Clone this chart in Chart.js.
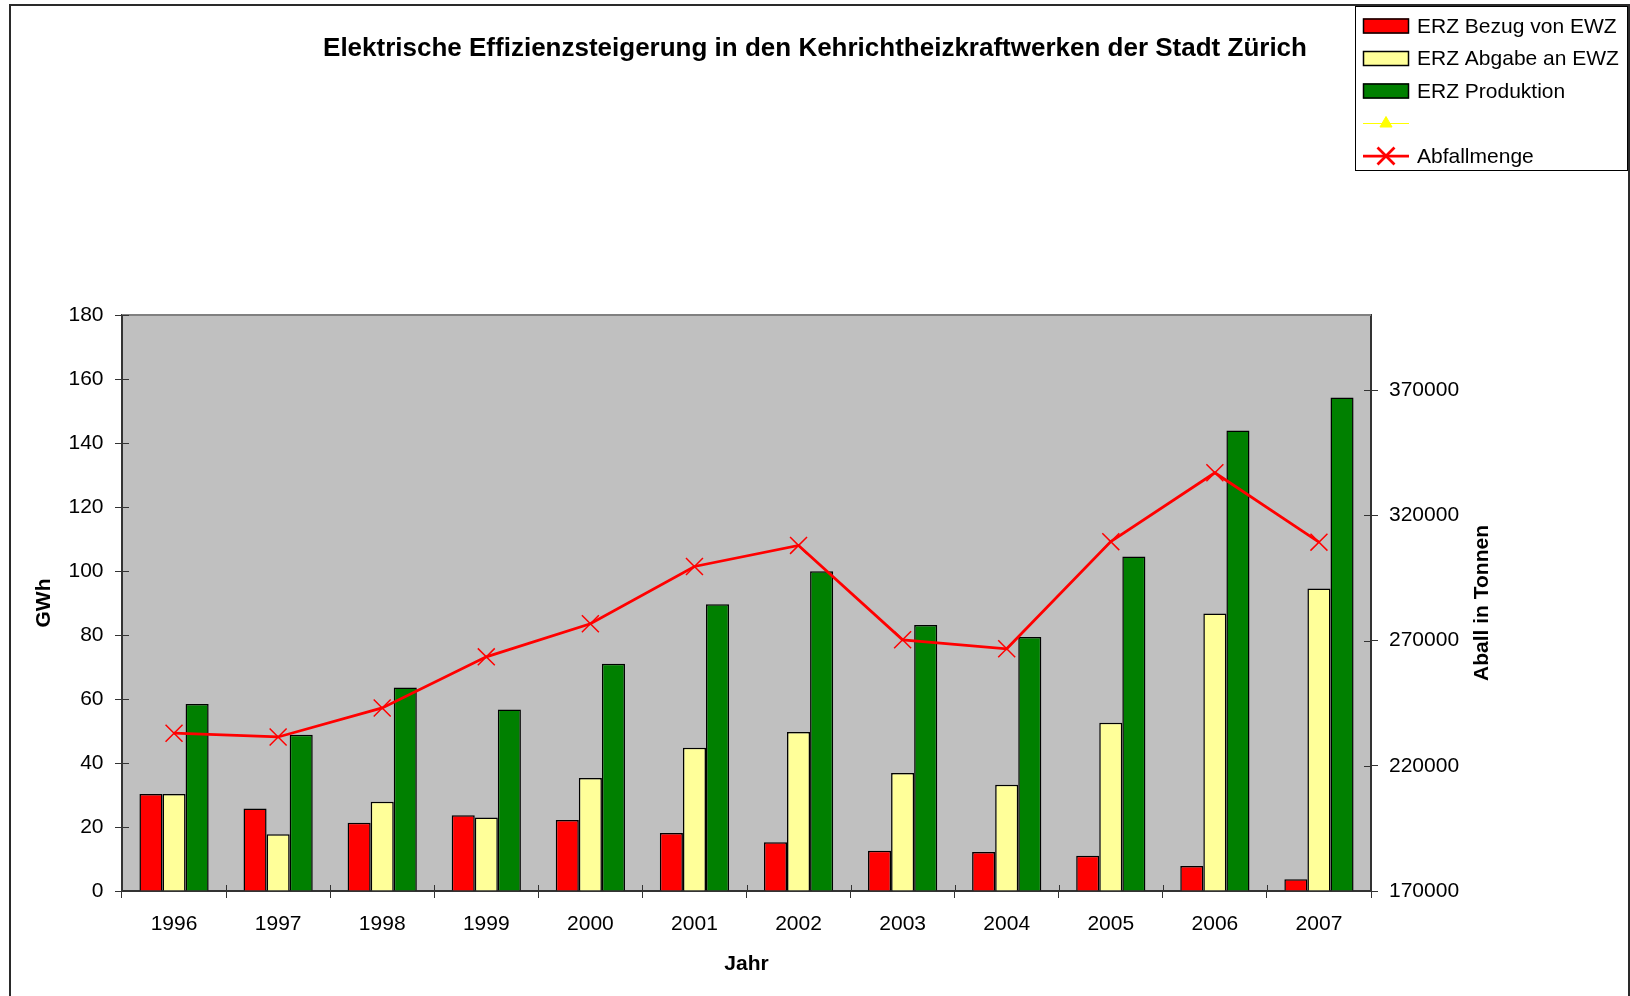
<!DOCTYPE html>
<html>
<head>
<meta charset="utf-8">
<script src="https://cdn.jsdelivr.net/npm/chart.js@4/dist/chart.umd.min.js"></script>
<style>
  html, body { margin: 0; padding: 0; background: #fff; overflow: hidden; }
  #wrap { position: relative; width: 1630px; height: 996px; }
  #frame { position: absolute; left: 9px; top: 4px; width: 1621px; height: 1020px; border: 2px solid #2a2a2a; box-sizing: border-box; pointer-events: none; }
</style>
</head>
<body>
<div id="wrap">
  <canvas id="chart" width="1630" height="996"></canvas>
  <div id="frame"></div>
</div>
<script>
const years = ['1996', '1997', '1998', '1999', '2000', '2001', '2002', '2003', '2004', '2005', '2006', '2007'];
// GWh
const bezugVonEwz = [30.3, 25.8, 21.3, 23.7, 22.2, 18.1, 15.2, 12.6, 12.2, 11.0, 7.8, 3.7];
const abgabeAnEwz = [30.3, 17.7, 27.9, 23.0, 35.3, 44.8, 49.7, 36.9, 33.2, 52.6, 86.7, 94.5];
const produktion = [58.4, 48.8, 63.6, 56.7, 71.0, 89.6, 99.9, 83.1, 79.4, 104.5, 143.9, 154.2];
// Tonnen
const abfallmenge = [233000, 231500, 243100, 263500, 276700, 299600, 308000, 270300, 266700, 309500, 337000, 309300];
const tonnenTicks = [170000, 220000, 270000, 320000, 370000];

const FONT = 'Arial, "Liberation Sans", sans-serif';
Chart.defaults.font.family = FONT;
Chart.defaults.color = '#000';

const AXIS = '#333';

// grey plot background and top border
const plotArea = {
  id: 'plotArea',
  beforeDraw(chart) {
    const { ctx, chartArea: a } = chart;
    ctx.save();
    ctx.fillStyle = '#C0C0C0';
    ctx.fillRect(a.left, a.top, a.right - a.left, a.bottom - a.top);
    ctx.restore();
  },
  afterDraw(chart) {
    const { ctx, chartArea: a } = chart;
    ctx.save();
    ctx.strokeStyle = '#808080';
    ctx.lineWidth = 2;
    ctx.beginPath();
    ctx.moveTo(a.left, a.top);
    ctx.lineTo(a.right, a.top);
    ctx.stroke();
    ctx.restore();
  }
};

// tick marks that cross the axis line (inner half)
const crossTicks = {
  id: 'crossTicks',
  afterDraw(chart) {
    const { ctx, chartArea: a, scales } = chart;
    ctx.save();
    ctx.strokeStyle = AXIS;
    ctx.lineWidth = 1;
    ctx.beginPath();
    scales.y.ticks.forEach(t => {
      const y = Math.round(scales.y.getPixelForValue(t.value)) + 0.5;
      ctx.moveTo(a.left, y); ctx.lineTo(a.left + 7, y);
    });
    scales.y1.ticks.forEach(t => {
      const y = Math.round(scales.y1.getPixelForValue(t.value)) + 0.5;
      ctx.moveTo(a.right - 7, y); ctx.lineTo(a.right, y);
    });
    for (let i = 0; i <= years.length; i++) {
      const x = Math.round(scales.x.getPixelForValue(i - 0.5)) + 0.5;
      ctx.moveTo(x, a.bottom - 6); ctx.lineTo(x, a.bottom);
    }
    ctx.stroke();

    // right axis title, reading bottom to top
    ctx.fillStyle = '#000';
    ctx.font = 'bold 21px ' + FONT;
    ctx.textAlign = 'center';
    ctx.textBaseline = 'middle';
    ctx.translate(1482, (a.top + a.bottom) / 2);
    ctx.rotate(-Math.PI / 2);
    ctx.fillText('Aball in Tonnen', 0, 0);
    ctx.restore();
  }
};

// boxed legend in the top right corner
const cornerLegend = {
  id: 'cornerLegend',
  afterDraw(chart) {
    const { ctx } = chart;
    const x0 = 1355, y0 = 6, w = 273, h = 165;
    ctx.save();
    ctx.fillStyle = '#fff';
    ctx.fillRect(x0, y0, w, h);
    ctx.strokeStyle = '#000';
    ctx.lineWidth = 1;
    ctx.strokeRect(x0 + 0.5, y0 + 0.5, w - 1, h - 1);
    ctx.font = '21px ' + FONT;
    ctx.textBaseline = 'middle';
    chart.data.datasets.forEach((ds, i) => {
      const y = 26 + i * 32.5;
      if (ds.type === 'line') {
        ctx.strokeStyle = ds.borderColor;
        ctx.lineWidth = ds.borderWidth;
        ctx.beginPath();
        ctx.moveTo(1363, y); ctx.lineTo(1409, y);
        ctx.stroke();
        ctx.fillStyle = ds.pointBackgroundColor;
        ctx.strokeStyle = ds.pointBorderColor;
        Chart.helpers.drawPoint(ctx, {
          pointStyle: ds.pointStyle,
          radius: ds.pointStyle === 'triangle' ? 7 : ds.pointRadius,
          rotation: 0,
          borderWidth: ds.pointBorderWidth
        }, 1386, y);
      } else {
        ctx.fillStyle = ds.backgroundColor;
        ctx.fillRect(1363, y - 7.5, 46, 15);
        ctx.strokeStyle = '#000';
        ctx.lineWidth = 1.5;
        ctx.strokeRect(1363.5, y - 7, 45, 14);
      }
      ctx.fillStyle = '#000';
      ctx.fillText(ds.label, 1417, y + 1);
    });
    ctx.restore();
  }
};

const barStyle = { borderColor: '#000', borderWidth: 1.5, categoryPercentage: 0.665, barPercentage: 1.0, yAxisID: 'y', order: 1 };

new Chart(document.getElementById('chart'), {
  type: 'bar',
  data: {
    labels: years,
    datasets: [
      { ...barStyle, label: 'ERZ Bezug von EWZ', data: bezugVonEwz, backgroundColor: '#FF0000' },
      { ...barStyle, label: 'ERZ Abgabe an EWZ', data: abgabeAnEwz, backgroundColor: '#FFFF99' },
      { ...barStyle, label: 'ERZ Produktion', data: produktion, backgroundColor: '#008000' },
      {
        type: 'line', label: '', data: [], yAxisID: 'y1', order: 0,
        borderColor: '#FFFF00', borderWidth: 1,
        pointStyle: 'triangle', pointRadius: 6, pointBorderWidth: 1,
        pointBackgroundColor: '#FFFF00', pointBorderColor: '#FFFF00'
      },
      {
        type: 'line', label: 'Abfallmenge', data: abfallmenge, yAxisID: 'y1', order: 0,
        borderColor: '#FF0000', borderWidth: 2.75, tension: 0,
        pointStyle: 'crossRot', pointRadius: 12, pointBorderWidth: 1.5,
        pointBackgroundColor: '#FF0000', pointBorderColor: '#FF0000'
      }
    ]
  },
  options: {
    responsive: false,
    animation: false,
    devicePixelRatio: 1,
    layout: { padding: 0 },
    plugins: {
      legend: { display: false },
      tooltip: { enabled: false },
      title: {
        display: true,
        text: 'Elektrische Effizienzsteigerung in den Kehrichtheizkraftwerken der Stadt Zürich',
        color: '#000',
        font: { size: 26, weight: 'bold' },
        padding: { top: 33.4, bottom: 250.4 }
      }
    },
    scales: {
      x: {
        offset: true,
        grid: { drawOnChartArea: false, offset: true, tickLength: 7, color: AXIS },
        border: { color: AXIS, width: 2 },
        ticks: { font: { size: 21 }, padding: 14, maxRotation: 0 },
        title: { display: true, text: 'Jahr', font: { size: 21, weight: 'bold' }, padding: { top: 0, bottom: 19.4 } },
        afterFit: s => { s.height = 105; }
      },
      y: {
        position: 'left',
        min: 0, max: 180,
        ticks: { stepSize: 20, font: { size: 21 }, padding: 11.5 },
        grid: { drawOnChartArea: false, tickLength: 7, color: AXIS },
        border: { color: AXIS, width: 2 },
        title: { display: true, text: 'GWh', font: { size: 21, weight: 'bold' }, padding: { top: 31.4, bottom: 0 } },
        afterFit: s => { s.width = 122; }
      },
      y1: {
        position: 'right',
        min: 170000, max: 400000,
        afterBuildTicks: s => { s.ticks = tonnenTicks.map(v => ({ value: v })); },
        ticks: { font: { size: 21 }, padding: 11, callback: v => String(v) },
        grid: { drawOnChartArea: false, tickLength: 7, color: AXIS },
        border: { color: AXIS, width: 2 },
        afterFit: s => { s.width = 259; }
      }
    }
  },
  plugins: [plotArea, crossTicks, cornerLegend]
});
</script>
</body>
</html>
